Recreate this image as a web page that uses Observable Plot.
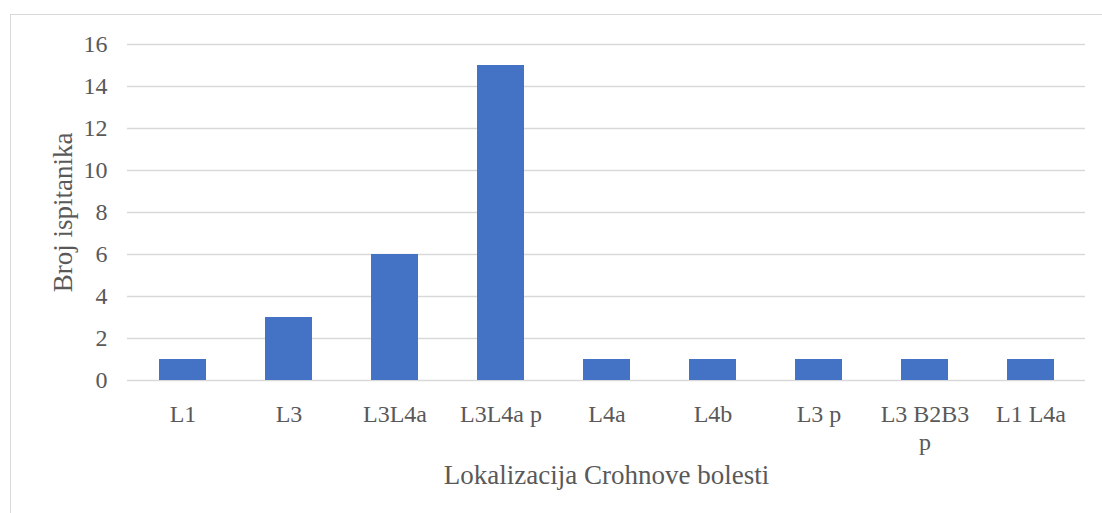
<!DOCTYPE html>
<html>
<head>
<meta charset="utf-8">
<script src="https://cdn.jsdelivr.net/npm/d3@7"></script>
<script src="https://cdn.jsdelivr.net/npm/@observablehq/plot@0.6"></script>
<style>
  html, body { margin: 0; padding: 0; background: #fff; }
  #wrap { position: relative; width: 1102px; height: 513px; overflow: hidden; }
  #border { position: absolute; left: 10px; top: 14px; width: 1200px; height: 600px;
            border-left: 1.5px solid #d9d9d9; border-top: 1.5px solid #d9d9d9; }
  #chart { position: absolute; left: 0; top: 0; }
  #chart svg, #chart svg text { font-family: "Liberation Serif", "Times New Roman", "DejaVu Serif", serif !important; }
</style>
</head>
<body>
<div id="wrap"><div id="border"></div><div id="chart"></div></div>
<script>
const categories = ["L1", "L3", "L3L4a", "L3L4a p", "L4a", "L4b", "L3 p", "L3 B2B3 p", "L1 L4a"];
const counts = [1, 3, 6, 15, 1, 1, 1, 1, 1];
const tickLabels = ["L1", "L3", "L3L4a", "L3L4a p", "L4a", "L4b", "L3 p", "L3 B2B3\np", "L1 L4a"];
const yTicks = [0, 2, 4, 6, 8, 10, 12, 14, 16];
const xTitle = "Lokalizacija Crohnove bolesti";
const yTitle = "Broj ispitanika";

const data = categories.map((c, i) => ({category: c, value: counts[i]}));
const labelOf = new Map(categories.map((c, i) => [c, tickLabels[i]]));

const font = "Liberation Serif, Times New Roman, serif";
const textColor = "#595959";

const chart = Plot.plot({
  width: 1102,
  height: 513,
  marginLeft: 127,
  marginRight: 17,
  marginTop: 44,
  marginBottom: 133,
  style: {fontFamily: font, background: "transparent"},
  x: {domain: categories, paddingInner: 0.56, paddingOuter: 0.28},
  y: {domain: [0, 16]},
  marks: [
    Plot.gridY(yTicks, {stroke: "#d9d9d9", strokeOpacity: 1, strokeWidth: 1.4}),
    Plot.barY(data, {x: "category", y: "value", fill: "#4472C4"}),
    Plot.axisY(yTicks, {tickSize: 0, tickPadding: 20, fontSize: 24, fontFamily: font,
                        color: textColor, label: null}),
    Plot.axisX({tickSize: 0, tickPadding: 21.5, fontSize: 24, fontFamily: font, color: textColor,
                label: null, lineHeight: 1.17, tickFormat: d => labelOf.get(d)}),
    Plot.text([xTitle], {frameAnchor: "bottom", lineAnchor: "bottom", dy: 103,
                         fontSize: 27, fontFamily: font, fill: textColor}),
    Plot.text([yTitle], {frameAnchor: "left", textAnchor: "middle", rotate: -90, dx: -64,
                         fontSize: 27, fontFamily: font, fill: textColor})
  ]
});
document.getElementById("chart").appendChild(chart);
</script>
</body>
</html>
